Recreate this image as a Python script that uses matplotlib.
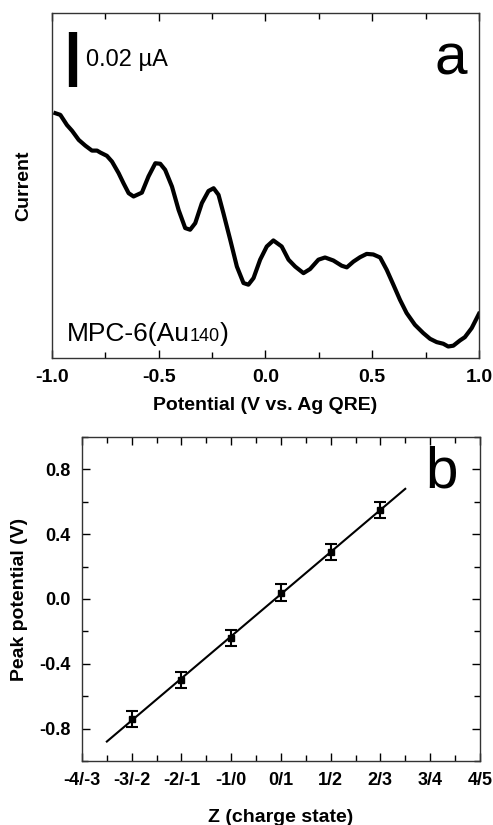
import numpy as np
from matplotlib import pyplot as plt
from matplotlib.offsetbox import TextArea, HPacker, AnchoredOffsetbox
from matplotlib.ticker import MultipleLocator, FixedLocator

plt.rcParams["font.family"] = ["Liberation Sans", "DejaVu Sans"]
plt.rcParams["axes.unicode_minus"] = False

# panel a: DPV trace, potential (V) vs current (uA, arbitrary offset)
potential = [-0.984, -0.961, -0.930, -0.906, -0.875, -0.844, -0.813, -0.789, -0.774, -0.743,
             -0.719, -0.688, -0.665, -0.641, -0.618, -0.579, -0.548, -0.516, -0.493, -0.470,
             -0.438, -0.407, -0.376, -0.353, -0.329, -0.298, -0.267, -0.243, -0.220, -0.197,
             -0.165, -0.134, -0.103, -0.080, -0.056, -0.025, 0.006, 0.037, 0.076, 0.108,
             0.139, 0.178, 0.209, 0.248, 0.279, 0.318, 0.357, 0.381, 0.412, 0.443,
             0.474, 0.505, 0.537, 0.568, 0.599, 0.630, 0.661, 0.700, 0.739, 0.771,
             0.802, 0.833, 0.856, 0.880, 0.911, 0.934, 0.966, 1.000]
current = [0.0891, 0.0885, 0.0848, 0.0827, 0.0794, 0.0773, 0.0755, 0.0755, 0.0748, 0.0736,
           0.0715, 0.0673, 0.0636, 0.0600, 0.0588, 0.0602, 0.0661, 0.0709, 0.0707, 0.0685,
           0.0624, 0.0539, 0.0473, 0.0467, 0.0491, 0.0564, 0.0608, 0.0618, 0.0594, 0.0527,
           0.0430, 0.0333, 0.0273, 0.0267, 0.0291, 0.0358, 0.0406, 0.0428, 0.0406, 0.0358,
           0.0333, 0.0309, 0.0324, 0.0358, 0.0366, 0.0355, 0.0336, 0.0330, 0.0351, 0.0367,
           0.0379, 0.0377, 0.0366, 0.0321, 0.0267, 0.0212, 0.0164, 0.0121, 0.0091, 0.0070,
           0.0058, 0.0052, 0.0042, 0.0045, 0.0064, 0.0076, 0.0109, 0.0161]
scale_bar = 0.02  # uA

# panel b: peak potential vs charge state
z_labels = ["-4/-3", "-3/-2", "-2/-1", "-1/0", "0/1", "1/2", "2/3", "3/4", "4/5"]
z_pos = [-4, -3, -2, -1, 0, 1, 2, 3, 4]
z_data = [-3, -2, -1, 0, 1, 2]
peak = [-0.74, -0.50, -0.24, 0.04, 0.29, 0.55]
peak_err = [0.05, 0.05, 0.05, 0.05, 0.05, 0.05]

fig = plt.figure(figsize=(4.93, 8.25), dpi=100)
ax1 = fig.add_axes([0.1055, 0.566, 0.866, 0.418])
ax2 = fig.add_axes([0.1663, 0.0776, 0.807, 0.3927])

# ---- a ----
ax1.plot(potential, current, color="black", lw=3)
ax1.set_xlim(-1, 1)
ax1.set_ylim(0, 0.1255)
ax1.xaxis.set_major_locator(MultipleLocator(0.5))
ax1.xaxis.set_minor_locator(MultipleLocator(0.25))
ax1.set_yticks([])
ax1.tick_params(axis="x", which="both", direction="in", top=True, bottom=True)
ax1.tick_params(axis="x", which="major", length=6, width=1, pad=8)
ax1.tick_params(axis="x", which="minor", length=4, width=1)
for lab in ax1.get_xticklabels():
    lab.set_fontsize(14)
    lab.set_fontweight("bold")
ax1.set_xlabel("Potential (V vs. Ag QRE)", fontsize=14, fontweight="bold", labelpad=8)
ax1.set_ylabel("Current", fontsize=14, fontweight="bold", labelpad=14)

ax1.plot([-0.902, -0.902], [0.0985, 0.0985 + scale_bar], color="black", lw=6,
         solid_capstyle="butt")
ax1.text(-0.84, 0.1085, "0.02 \u00b5A", fontsize=17, va="center", ha="left")
ax1.text(0.945, 0.1085, "a", fontsize=42, ha="right", va="center")

label = HPacker(children=[TextArea("MPC-6(Au", textprops=dict(fontsize=19)),
                          TextArea("140", textprops=dict(fontsize=13)),
                          TextArea(")", textprops=dict(fontsize=19))],
                align="baseline", pad=0, sep=0)
box = AnchoredOffsetbox(loc="lower left", child=label, frameon=False,
                        bbox_to_anchor=(0.035, 0.035), bbox_transform=ax1.transAxes,
                        borderpad=0, pad=0)
ax1.add_artist(box)

# ---- b ----
slope, icept = np.polyfit(z_data, peak, 1)
zline = np.array([-3.5, 2.5])
ax2.plot(zline, slope * zline + icept, color="black", lw=1.5)
ax2.errorbar(z_data, peak, yerr=peak_err, fmt="s", color="black", ms=5,
             capsize=4, elinewidth=1.5, capthick=1.5)
ax2.set_xlim(-4, 4)
ax2.set_ylim(-1.0, 1.0)
ax2.xaxis.set_major_locator(FixedLocator(z_pos))
ax2.set_xticklabels(z_labels)
ax2.xaxis.set_minor_locator(MultipleLocator(0.5))
ax2.yaxis.set_major_locator(FixedLocator([-0.8, -0.4, 0.0, 0.4, 0.8]))
ax2.yaxis.set_minor_locator(MultipleLocator(0.2))
ax2.set_yticklabels(["-0.8", "-0.4", "0.0", "0.4", "0.8"])
ax2.tick_params(which="both", direction="in", top=True, bottom=True, left=True, right=True)
ax2.tick_params(which="major", length=6, width=1, pad=8)
ax2.tick_params(which="minor", length=4, width=1)
for lab in ax2.get_xticklabels() + ax2.get_yticklabels():
    lab.set_fontsize(13)
    lab.set_fontweight("bold")
ax2.set_xlabel("Z (charge state)", fontsize=14, fontweight="bold", labelpad=14)
ax2.set_ylabel("Peak potential (V)", fontsize=14, fontweight="bold", labelpad=8)
ax2.text(3.55, 0.78, "b", fontsize=42, ha="right", va="center")

for ax in (ax1, ax2):
    for sp in ax.spines.values():
        sp.set_linewidth(1)
        sp.set_color("#333333")

fig.savefig("out.png", dpi=100)
